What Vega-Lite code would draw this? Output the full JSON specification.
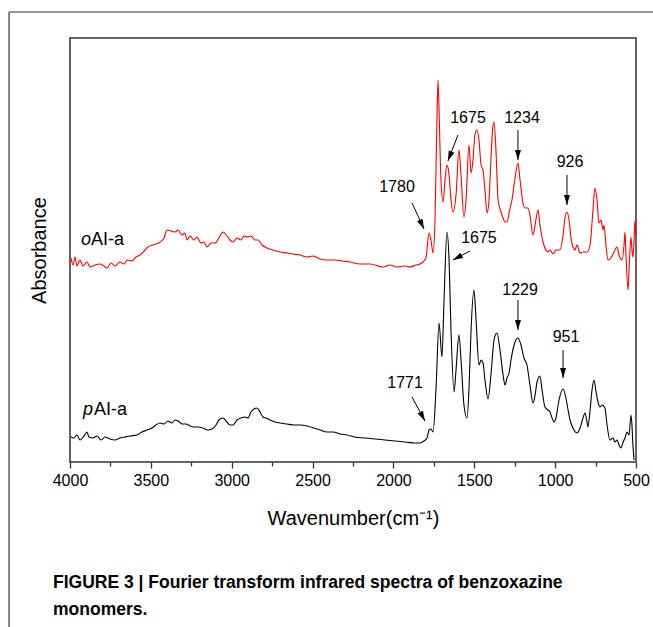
{
  "$schema": "https://vega.github.io/schema/vega-lite/v6.json",
  "width": 566,
  "height": 424,
  "autosize": {"type": "none"},
  "padding": {"left": 70, "top": 38, "right": 17, "bottom": 165},
  "background": "white",
  "config": {
    "font": "Liberation Sans",
    "view": {"stroke": "#333333", "strokeWidth": 1.5}
  },
  "title": {
    "text": ["FIGURE 3 | Fourier transform infrared spectra of benzoxazine", "monomers."],
    "orient": "bottom",
    "anchor": "start",
    "frame": "group",
    "dx": -17,
    "offset": -54,
    "font": "Liberation Sans Narrow, Liberation Sans",
    "fontSize": 17.5,
    "fontWeight": "bold",
    "color": "#000000",
    "lineHeight": 27
  },
  "datasets": {
    "red": [
      {"wn":3994,"abs":204},{"wn":3981,"abs":197},{"wn":3969,"abs":205},{"wn":3957,"abs":196},{"wn":3938,"abs":202},{"wn":3920,"abs":196},{"wn":3895,"abs":200},{"wn":3876,"abs":195},{"wn":3845,"abs":197},{"wn":3814,"abs":198},{"wn":3790,"abs":196},{"wn":3771,"abs":194},{"wn":3746,"abs":199},{"wn":3722,"abs":196},{"wn":3691,"abs":200},{"wn":3666,"abs":198},{"wn":3648,"abs":202},{"wn":3617,"abs":201},{"wn":3592,"abs":205},{"wn":3567,"abs":207},{"wn":3536,"abs":212},{"wn":3518,"abs":215},{"wn":3487,"abs":217},{"wn":3443,"abs":220},{"wn":3419,"abs":224},{"wn":3400,"abs":232},{"wn":3375,"abs":231},{"wn":3351,"abs":230},{"wn":3332,"abs":232},{"wn":3307,"abs":227},{"wn":3289,"abs":229},{"wn":3277,"abs":222},{"wn":3258,"abs":226},{"wn":3233,"abs":222},{"wn":3215,"abs":225},{"wn":3190,"abs":219},{"wn":3171,"abs":220},{"wn":3153,"abs":215},{"wn":3128,"abs":219},{"wn":3103,"abs":219},{"wn":3079,"abs":224},{"wn":3054,"abs":230},{"wn":3029,"abs":226},{"wn":3011,"abs":222},{"wn":2992,"abs":220},{"wn":2967,"abs":224},{"wn":2943,"abs":222},{"wn":2924,"abs":226},{"wn":2905,"abs":225},{"wn":2881,"abs":226},{"wn":2856,"abs":222},{"wn":2837,"abs":222},{"wn":2813,"abs":217},{"wn":2782,"abs":214},{"wn":2745,"abs":212},{"wn":2701,"abs":210},{"wn":2658,"abs":209},{"wn":2621,"abs":208},{"wn":2578,"abs":207},{"wn":2534,"abs":205},{"wn":2497,"abs":206},{"wn":2454,"abs":203},{"wn":2411,"abs":202},{"wn":2361,"abs":202},{"wn":2318,"abs":201},{"wn":2269,"abs":200},{"wn":2207,"abs":198},{"wn":2145,"abs":198},{"wn":2064,"abs":195},{"wn":2021,"abs":197},{"wn":1978,"abs":195},{"wn":1928,"abs":196},{"wn":1898,"abs":195},{"wn":1860,"abs":197},{"wn":1836,"abs":198},{"wn":1817,"abs":200},{"wn":1799,"abs":204},{"wn":1780,"abs":229},{"wn":1768,"abs":222},{"wn":1755,"abs":209},{"wn":1743,"abs":242},{"wn":1731,"abs":342},{"wn":1724,"abs":382},{"wn":1718,"abs":352},{"wn":1706,"abs":282},{"wn":1693,"abs":260},{"wn":1681,"abs":282},{"wn":1669,"abs":297},{"wn":1656,"abs":287},{"wn":1644,"abs":262},{"wn":1632,"abs":250},{"wn":1613,"abs":267},{"wn":1595,"abs":312},{"wn":1582,"abs":287},{"wn":1564,"abs":245},{"wn":1551,"abs":262},{"wn":1533,"abs":317},{"wn":1520,"abs":289},{"wn":1508,"abs":302},{"wn":1496,"abs":327},{"wn":1483,"abs":332},{"wn":1471,"abs":322},{"wn":1458,"abs":297},{"wn":1446,"abs":292},{"wn":1434,"abs":272},{"wn":1421,"abs":249},{"wn":1409,"abs":262},{"wn":1397,"abs":302},{"wn":1384,"abs":337},{"wn":1378,"abs":340},{"wn":1366,"abs":312},{"wn":1353,"abs":262},{"wn":1335,"abs":250},{"wn":1322,"abs":244},{"wn":1310,"abs":240},{"wn":1298,"abs":240},{"wn":1279,"abs":254},{"wn":1267,"abs":262},{"wn":1248,"abs":284},{"wn":1230,"abs":299},{"wn":1217,"abs":282},{"wn":1199,"abs":259},{"wn":1186,"abs":254},{"wn":1168,"abs":254},{"wn":1156,"abs":247},{"wn":1137,"abs":227},{"wn":1124,"abs":237},{"wn":1106,"abs":252},{"wn":1094,"abs":237},{"wn":1075,"abs":220},{"wn":1057,"abs":212},{"wn":1044,"abs":210},{"wn":1032,"abs":212},{"wn":1013,"abs":208},{"wn":995,"abs":212},{"wn":970,"abs":212},{"wn":951,"abs":227},{"wn":939,"abs":244},{"wn":927,"abs":250},{"wn":914,"abs":242},{"wn":902,"abs":224},{"wn":890,"abs":215},{"wn":877,"abs":212},{"wn":865,"abs":217},{"wn":846,"abs":209},{"wn":828,"abs":210},{"wn":803,"abs":210},{"wn":784,"abs":217},{"wn":766,"abs":252},{"wn":754,"abs":274},{"wn":741,"abs":262},{"wn":729,"abs":239},{"wn":716,"abs":242},{"wn":704,"abs":232},{"wn":698,"abs":237},{"wn":686,"abs":217},{"wn":673,"abs":202},{"wn":655,"abs":204},{"wn":636,"abs":210},{"wn":617,"abs":215},{"wn":605,"abs":207},{"wn":587,"abs":202},{"wn":574,"abs":217},{"wn":568,"abs":230},{"wn":562,"abs":207},{"wn":549,"abs":172},{"wn":543,"abs":192},{"wn":531,"abs":225},{"wn":525,"abs":212},{"wn":519,"abs":205},{"wn":512,"abs":222},{"wn":506,"abs":242},{"wn":500,"abs":227}
    ],
    "black": [
      {"wn":3994,"abs":25},{"wn":3975,"abs":24},{"wn":3957,"abs":27},{"wn":3938,"abs":22},{"wn":3913,"abs":26},{"wn":3895,"abs":30},{"wn":3883,"abs":25},{"wn":3858,"abs":24},{"wn":3833,"abs":26},{"wn":3808,"abs":22},{"wn":3784,"abs":25},{"wn":3753,"abs":23},{"wn":3722,"abs":22},{"wn":3691,"abs":24},{"wn":3660,"abs":25},{"wn":3629,"abs":26},{"wn":3586,"abs":27},{"wn":3555,"abs":30},{"wn":3524,"abs":32},{"wn":3493,"abs":34},{"wn":3468,"abs":37},{"wn":3443,"abs":39},{"wn":3419,"abs":38},{"wn":3394,"abs":41},{"wn":3369,"abs":39},{"wn":3351,"abs":42},{"wn":3332,"abs":41},{"wn":3307,"abs":38},{"wn":3283,"abs":38},{"wn":3258,"abs":36},{"wn":3233,"abs":35},{"wn":3208,"abs":35},{"wn":3178,"abs":34},{"wn":3147,"abs":32},{"wn":3122,"abs":33},{"wn":3097,"abs":37},{"wn":3079,"abs":42},{"wn":3054,"abs":44},{"wn":3035,"abs":41},{"wn":3011,"abs":37},{"wn":2992,"abs":37},{"wn":2967,"abs":42},{"wn":2943,"abs":44},{"wn":2918,"abs":45},{"wn":2899,"abs":44},{"wn":2881,"abs":50},{"wn":2862,"abs":53},{"wn":2844,"abs":54},{"wn":2825,"abs":50},{"wn":2807,"abs":45},{"wn":2788,"abs":44},{"wn":2763,"abs":42},{"wn":2732,"abs":40},{"wn":2701,"abs":39},{"wn":2658,"abs":38},{"wn":2615,"abs":37},{"wn":2578,"abs":37},{"wn":2534,"abs":36},{"wn":2491,"abs":34},{"wn":2454,"abs":32},{"wn":2411,"abs":30},{"wn":2374,"abs":30},{"wn":2330,"abs":28},{"wn":2287,"abs":27},{"wn":2238,"abs":25},{"wn":2176,"abs":24},{"wn":2114,"abs":23},{"wn":2052,"abs":22},{"wn":1990,"abs":21},{"wn":1928,"abs":20},{"wn":1867,"abs":19},{"wn":1836,"abs":19},{"wn":1811,"abs":21},{"wn":1792,"abs":24},{"wn":1780,"abs":32},{"wn":1768,"abs":33},{"wn":1755,"abs":30},{"wn":1737,"abs":72},{"wn":1718,"abs":139},{"wn":1700,"abs":105},{"wn":1687,"abs":162},{"wn":1669,"abs":230},{"wn":1656,"abs":202},{"wn":1644,"abs":132},{"wn":1625,"abs":70},{"wn":1613,"abs":92},{"wn":1595,"abs":127},{"wn":1582,"abs":102},{"wn":1564,"abs":57},{"wn":1545,"abs":44},{"wn":1533,"abs":72},{"wn":1520,"abs":132},{"wn":1502,"abs":172},{"wn":1489,"abs":142},{"wn":1471,"abs":97},{"wn":1458,"abs":102},{"wn":1446,"abs":99},{"wn":1434,"abs":82},{"wn":1415,"abs":63},{"wn":1397,"abs":87},{"wn":1378,"abs":122},{"wn":1360,"abs":129},{"wn":1341,"abs":112},{"wn":1322,"abs":87},{"wn":1310,"abs":77},{"wn":1298,"abs":84},{"wn":1285,"abs":89},{"wn":1273,"abs":102},{"wn":1254,"abs":117},{"wn":1230,"abs":124},{"wn":1211,"abs":117},{"wn":1193,"abs":104},{"wn":1174,"abs":97},{"wn":1156,"abs":77},{"wn":1137,"abs":59},{"wn":1124,"abs":67},{"wn":1112,"abs":80},{"wn":1094,"abs":86},{"wn":1081,"abs":72},{"wn":1063,"abs":55},{"wn":1044,"abs":52},{"wn":1032,"abs":50},{"wn":1019,"abs":44},{"wn":1007,"abs":40},{"wn":995,"abs":44},{"wn":976,"abs":62},{"wn":951,"abs":73},{"wn":933,"abs":64},{"wn":920,"abs":52},{"wn":908,"abs":42},{"wn":890,"abs":34},{"wn":865,"abs":29},{"wn":846,"abs":34},{"wn":828,"abs":44},{"wn":815,"abs":49},{"wn":803,"abs":40},{"wn":797,"abs":35},{"wn":784,"abs":52},{"wn":772,"abs":72},{"wn":760,"abs":82},{"wn":747,"abs":70},{"wn":735,"abs":60},{"wn":722,"abs":55},{"wn":710,"abs":57},{"wn":692,"abs":54},{"wn":679,"abs":37},{"wn":661,"abs":22},{"wn":642,"abs":24},{"wn":630,"abs":20},{"wn":617,"abs":22},{"wn":605,"abs":17},{"wn":593,"abs":14},{"wn":580,"abs":20},{"wn":568,"abs":24},{"wn":556,"abs":30},{"wn":543,"abs":27},{"wn":531,"abs":47},{"wn":525,"abs":37},{"wn":519,"abs":17},{"wn":512,"abs":2}
    ],
    "arrows": [
      {"id":"r1780","label":"1780","lx":1978,"ly":275,"tx":1885,"ty":259,"hx":1811,"hy":233},
      {"id":"r1675","label":"1675","lx":1539,"ly":344,"tx":1601,"ty":327,"hx":1663,"hy":301},
      {"id":"r1234","label":"1234","lx":1205,"ly":344,"tx":1230,"ty":332,"hx":1230,"hy":302},
      {"id":"r926","label":"926","lx":908,"ly":300,"tx":927,"ty":287,"hx":927,"hy":257},
      {"id":"b1675","label":"1675","lx":1471,"ly":224,"tx":1527,"ty":211,"hx":1632,"hy":202},
      {"id":"b1229","label":"1229","lx":1217,"ly":172,"tx":1230,"ty":162,"hx":1230,"hy":132},
      {"id":"b951","label":"951","lx":933,"ly":125,"tx":951,"ty":112,"hx":951,"hy":84},
      {"id":"b1771","label":"1771","lx":1928,"ly":79,"tx":1885,"ty":65,"hx":1805,"hy":41}
    ],
    "names": [
      {"it":"o","rest":"AI-a","x":3932,"x2":3870,"y":222},
      {"it":"p","rest":"AI-a","x":3920,"x2":3852,"y":52}
    ],
    "frame": [
      {"x":4377,"y":-165,"x2":4377,"y2":450},
      {"x":4377,"y":450,"x2":380,"y2":450}
    ]
  },
  "layer": [
    {
      "data": {"name": "red"},
      "mark": {"type": "line", "color": "#ff0000", "strokeWidth": 1.1, "interpolate": "monotone"},
      "encoding": {
        "x": {
          "field": "wn", "type": "quantitative",
          "scale": {"domain": [500, 4000], "reverse": true, "nice": false, "zero": false},
          "axis": {
            "title": "Wavenumber(cm⁻¹)",
            "values": [4000,3750,3500,3250,3000,2750,2500,2250,2000,1750,1500,1250,1000,750,500],
            "format": "d",
            "labelExpr": "datum.value % 500 === 0 ? datum.label : ''",
            "tickSize": {"condition": {"test": "datum.value % 500 === 0", "value": 6}, "value": 4},
            "tickColor": "#333333",
            "tickWidth": 1.3,
            "domain": false,
            "grid": false,
            "labelFontSize": 16,
            "labelColor": "#000000",
            "labelPadding": 4,
            "labelFlush": false,
            "labelOverlap": false,
            "titleFontSize": 20,
            "titleFontWeight": "normal",
            "titleColor": "#000000",
            "titlePadding": 20
          }
        },
        "y": {
          "field": "abs", "type": "quantitative",
          "scale": {"domain": [0, 424], "nice": false, "zero": false},
          "axis": {
            "title": "Absorbance",
            "labels": false,
            "ticks": false,
            "domain": false,
            "grid": false,
            "titleFontSize": 20,
            "titleFontWeight": "normal",
            "titleColor": "#000000",
            "titlePadding": 21
          }
        }
      }
    },
    {
      "data": {"name": "black"},
      "mark": {"type": "line", "color": "#000000", "strokeWidth": 1.1, "interpolate": "monotone"},
      "encoding": {
        "x": {"field": "wn", "type": "quantitative"},
        "y": {"field": "abs", "type": "quantitative"}
      }
    },
    {
      "data": {"name": "arrows"},
      "mark": {"type": "rule", "color": "#000000", "strokeWidth": 1},
      "encoding": {
        "x": {"field": "tx", "type": "quantitative"},
        "y": {"field": "ty", "type": "quantitative"},
        "x2": {"field": "hx"},
        "y2": {"field": "hy"}
      }
    },
    {
      "data": {"name": "arrows"},
      "mark": {"type": "text", "fontSize": 16, "color": "#000000", "align": "center", "baseline": "middle"},
      "encoding": {
        "x": {"field": "lx", "type": "quantitative"},
        "y": {"field": "ly", "type": "quantitative"},
        "text": {"field": "label"}
      }
    },
    {
      "data": {"name": "arrows"},
      "transform": [{"filter": "indexof(['r1234','r926','b1229','b951'], datum.id) >= 0"}],
      "mark": {"type": "point", "shape": "M-0.6,-2L0.6,-2L0,0Z", "filled": true, "color": "#000000", "opacity": 1, "size": 100, "angle": 0},
      "encoding": {
        "x": {"field": "hx", "type": "quantitative"},
        "y": {"field": "hy", "type": "quantitative"}
      }
    },
    {
      "data": {"name": "arrows"},
      "transform": [{"filter": "datum.id === 'r1780'"}],
      "mark": {"type": "point", "shape": "M-0.6,-2L0.6,-2L0,0Z", "filled": true, "color": "#000000", "opacity": 1, "size": 100, "angle": -25},
      "encoding": {
        "x": {"field": "hx", "type": "quantitative"},
        "y": {"field": "hy", "type": "quantitative"}
      }
    },
    {
      "data": {"name": "arrows"},
      "transform": [{"filter": "datum.id === 'r1675'"}],
      "mark": {"type": "point", "shape": "M-0.6,-2L0.6,-2L0,0Z", "filled": true, "color": "#000000", "opacity": 1, "size": 100, "angle": 21},
      "encoding": {
        "x": {"field": "hx", "type": "quantitative"},
        "y": {"field": "hy", "type": "quantitative"}
      }
    },
    {
      "data": {"name": "arrows"},
      "transform": [{"filter": "datum.id === 'b1675'"}],
      "mark": {"type": "point", "shape": "M-0.6,-2L0.6,-2L0,0Z", "filled": true, "color": "#000000", "opacity": 1, "size": 100, "angle": 62},
      "encoding": {
        "x": {"field": "hx", "type": "quantitative"},
        "y": {"field": "hy", "type": "quantitative"}
      }
    },
    {
      "data": {"name": "arrows"},
      "transform": [{"filter": "datum.id === 'b1771'"}],
      "mark": {"type": "point", "shape": "M-0.6,-2L0.6,-2L0,0Z", "filled": true, "color": "#000000", "opacity": 1, "size": 100, "angle": -28},
      "encoding": {
        "x": {"field": "hx", "type": "quantitative"},
        "y": {"field": "hy", "type": "quantitative"}
      }
    },
    {
      "data": {"name": "names"},
      "mark": {"type": "text", "fontSize": 18, "fontStyle": "italic", "color": "#000000", "align": "left", "baseline": "middle"},
      "encoding": {
        "x": {"field": "x", "type": "quantitative"},
        "y": {"field": "y", "type": "quantitative"},
        "text": {"field": "it"}
      }
    },
    {
      "data": {"name": "names"},
      "mark": {"type": "text", "fontSize": 18, "color": "#000000", "align": "left", "baseline": "middle"},
      "encoding": {
        "x": {"field": "x2", "type": "quantitative"},
        "y": {"field": "y", "type": "quantitative"},
        "text": {"field": "rest"}
      }
    },
    {
      "data": {"name": "frame"},
      "mark": {"type": "rule", "color": "#333333", "strokeWidth": 1.2},
      "encoding": {
        "x": {"field": "x", "type": "quantitative"},
        "y": {"field": "y", "type": "quantitative"},
        "x2": {"field": "x2"},
        "y2": {"field": "y2"}
      }
    }
  ]
}
